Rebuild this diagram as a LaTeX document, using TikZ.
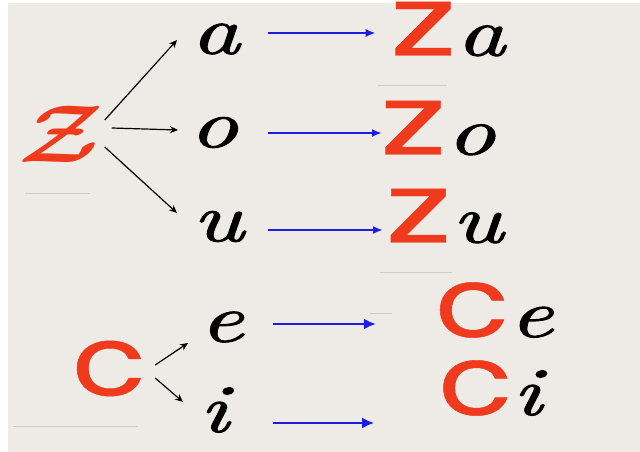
\documentclass[tikz,border=0pt]{standalone}
\usepackage{fontspec}
\usepackage{graphicx}
\newfontfamily\popfont{Poppins}[FakeBold=0.4]
\newfontface\cursfont{lmroman10-italic.otf}[FakeBold=1.3]
\usetikzlibrary{arrows.meta}
\definecolor{bgc}{RGB}{238,235,230}
\definecolor{redz}{RGB}{240,58,30}
\definecolor{bluearr}{RGB}{28,28,228}
\definecolor{faint}{RGB}{208,205,200}
\newcommand{\blk}[1]{\scalebox{1.4}[1]{\fontsize{68}{72}\selectfont\cursfont #1}}
\newcommand{\rdz}{{\color{redz}\scalebox{1.5}[1]{\fontsize{98}{100}\selectfont\popfont z}}}
\newcommand{\rdc}{{\color{redz}\scalebox{1.25}[1]{\fontsize{98}{100}\selectfont\popfont c}}}
\tikzset{
  letter/.style={inner sep=0pt, outer sep=0pt},
  blackarrow/.style={draw=black, line width=1.2pt, -{Stealth[length=8pt,width=7pt]}},
  bluearrow/.style={draw=bluearr, line width=2pt, -{Latex[length=10pt,width=8pt]}},
  bluethick/.style={draw=bluearr, line width=2.6pt, -{Latex[length=12pt,width=11pt]}},
  faintline/.style={draw=faint, line width=1pt}
}
\begin{document}
\begin{tikzpicture}[x=1pt,y=-1pt]
\useasboundingbox (0,0) rectangle (640,452);
\fill[white] (0,0) rectangle (640,452);
\fill[bgc] (8,3) rectangle (640,452);
% faint marks
\draw[faintline] (25,193) -- (90,193);
\draw[faintline] (378,86) -- (447,86);
\draw[faintline] (13,426) -- (138,426);
\draw[faintline] (380,272) -- (452,272);
\draw[faintline] (370,313) -- (392,313);
% left letters
\node[letter, minimum width=72pt, minimum height=55pt] (zL) at (61,134.5)
  {\color{redz}\scalebox{9.5}[8.2]{\boldmath$\mathcal{Z}$}};
\node[letter, minimum width=58pt, minimum height=47pt] (cL) at (109,368.5) {\rdc};
% vowels
\node[letter, minimum width=55pt, minimum height=28pt] (a) at (215.5,39) {\blk{a}};
\node[letter, minimum width=53pt, minimum height=29pt] (o) at (213.5,132.5) {\blk{o}};
\node[letter, minimum width=60pt, minimum height=33pt] (u) at (218,226.5) {\blk{u}};
\node[letter, minimum width=47pt, minimum height=30pt] (e) at (221.5,327) {\blk{e}};
\node[letter, minimum width=32pt, minimum height=54pt] (i) at (214,410) {\blk{i}};
% syllables
\node[letter, minimum width=111pt, minimum height=48pt] (za) at (447.5,29) {\rdz\blk{a}};
\node[letter, minimum width=119pt, minimum height=50pt] (zo) at (437.5,128) {\rdz\blk{o}};
\node[letter, minimum width=122pt, minimum height=48pt] (zu) at (444,216) {\rdz\blk{u}};
\node[letter, minimum width=102pt, minimum height=46pt] (ce) at (494,310) {\rdc\blk{e}};
\node[letter, minimum width=84pt, minimum height=50pt] (ci) at (490,388) {\rdc\blk{i}};
% black arrows
\draw[blackarrow] ([shift={(1pt,14.5pt)}]zL.east) -- ([shift={(-11pt,-1pt)}]a.west);
\draw[blackarrow] ([shift={(8pt,6.5pt)}]zL.east) -- ([shift={(-9pt,2.5pt)}]o.west);
\draw[blackarrow] ([shift={(1pt,-12.5pt)}]zL.east) -- ([shift={(-11pt,13.5pt)}]u.west);
\draw[blackarrow] ([shift={(9pt,3.5pt)}]cL.east) -- ([shift={(-10pt,-16pt)}]e.west);
\draw[blackarrow] ([shift={(9pt,-9.5pt)}]cL.east) -- ([shift={(-15pt,8pt)}]i.west);
% blue arrows
\draw[bluearrow] ([shift={(25pt,6pt)}]a.east) -- ([shift={(-14pt,-4pt)}]za.west);
\draw[bluearrow] ([shift={(28pt,-0.5pt)}]o.east) -- ([shift={(4pt,-5pt)}]zo.west);
\draw[bluearrow] ([shift={(20pt,-3.5pt)}]u.east) -- ([shift={(0pt,-14pt)}]zu.west);
\draw[bluethick] ([shift={(28pt,3pt)}]e.east) -- ([shift={(-59pt,-14pt)}]ce.west);
\draw[bluethick] ([shift={(43pt,-13pt)}]i.east) -- ([shift={(-64pt,-35pt)}]ci.west);
\end{tikzpicture}
\end{document}
